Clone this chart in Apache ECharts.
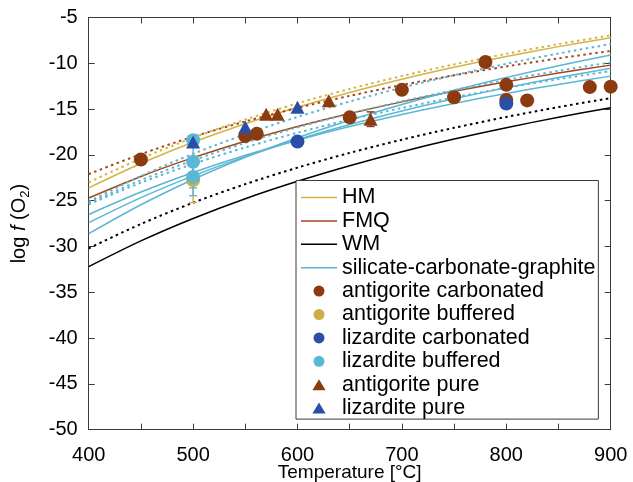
<!DOCTYPE html>
<html>
<head>
<meta charset="utf-8">
<script src="https://cdn.jsdelivr.net/npm/echarts@6/dist/echarts.min.js"></script>
<style>html,body{margin:0;padding:0;background:#fff}#c{width:633px;height:482px}</style>
</head>
<body>
<div id="c"></div>
<script>
// Temperatures (°C) at which the buffer curves were read
const temps = [400, 450, 500, 550, 600, 650, 700, 750, 800, 850, 900];

// Buffer curves (log fO2)
const hmSolid  = [-23.6, -20.94, -18.62, -16.59, -14.79, -13.18, -11.74, -10.44, -9.26, -8.18, -7.2];
const hmDotted = [-23.0, -20.40, -18.13, -16.14, -14.37, -12.80, -11.39, -10.12, -8.96, -7.91, -6.95];
const fmqSolid  = [-24.7, -22.35, -20.30, -18.50, -16.91, -15.49, -14.21, -13.06, -12.02, -11.07, -10.2];
const fmqDotted = [-22.1, -19.92, -18.02, -16.35, -14.87, -13.55, -12.37, -11.31, -10.34, -9.46, -8.65];
const wmSolid  = [-32.2, -29.39, -26.94, -24.78, -22.88, -21.18, -19.65, -18.27, -17.03, -15.89, -14.85];
const wmDotted = [-30.2, -27.54, -25.22, -23.19, -21.39, -19.78, -18.34, -17.04, -15.86, -14.78, -13.8];

// silicate-carbonate-graphite curves
const scgSolid1 = [-26.5, -24.05, -21.92, -20.04, -18.39, -16.91, -15.58, -14.38, -13.29, -12.31, -11.4];
const scgSolid2 = [-27.4, -24.67, -22.29, -20.19, -18.34, -16.69, -15.21, -13.88, -12.66, -11.56, -10.55];
const scgSolid3 = [-28.6, -25.44, -22.68, -20.26, -18.12, -16.21, -14.50, -12.95, -11.55, -10.27, -9.1];
const scgDotted1 = [-25.1, -22.31, -19.88, -17.75, -15.86, -14.17, -12.66, -11.30, -10.06, -8.93, -7.9];
const scgDotted2 = [-25.25, -22.76, -20.59, -18.69, -17.00, -15.50, -14.15, -12.93, -11.82, -10.82, -9.9];
const scgDotted3 = [-25.4, -23.04, -20.99, -19.18, -17.58, -16.15, -14.88, -13.72, -12.67, -11.72, -10.85];

// Experimental points
const antCarbT = [450, 550, 561, 650, 700, 750, 780, 800, 800, 820, 880, 900];
const antCarbV = [-20.5, -17.95, -17.7, -15.9, -12.9, -13.7, -9.85, -12.35, -14.0, -14.05, -12.6, -12.55];
const antBufT = [500];
const antBufV = [-22.75];
const antBufLo = [-25.2];
const antBufHi = [-20.3];
const lizCarbT = [600, 800];
const lizCarbV = [-18.55, -14.4];
const lizBufT = [500, 500, 500];
const lizBufV = [-18.4, -20.75, -22.4];
const lizBufLo = [-18.4, -23.6, -24.45];
const lizBufHi = [-18.4, -17.9, -20.35];
const antPureT = [570, 581, 630, 670];
const antPureV = [-15.55, -15.55, -14.1, -16.1];
const antPureLo = [-15.55, -15.55, -14.1, -16.9];
const antPureHi = [-15.55, -15.55, -14.1, -15.3];
const lizPureT = [500, 550, 600];
const lizPureV = [-18.6, -16.95, -14.8];

// Axis ticks
const xMin = 400, xMax = 900, xStep = 50, xLabelStep = 100;
const yMin = -50, yMax = -5, yStep = 5;

const C = {
  gold: '#D3B445', goldM: '#CDAE48',
  brown: '#A9441A', brownM: '#8C3A0F',
  black: '#000000',
  blue: '#2B4EA6', lblue: '#5BB7D3'
};
const FONT = 'Liberation Sans, Arial, Helvetica, sans-serif';
const LINE_ICON = 'path://M0,0H36V1.5H0Z';
const TRI_ICON = 'path://M6,0L12,10L0,10Z';

function pairs(xs, ys) { return xs.map((x, i) => [x, ys[i]]); }
function lineS(name, ys, color, dotted, width) {
  return {
    name: name, type: 'line', data: pairs(temps, ys), showSymbol: false, symbol: 'none',
    smooth: 0.3, silent: true, z: 2,
    lineStyle: { color: color, width: width || 1.5, type: dotted ? [2.5, 3.5] : 'solid' },
    itemStyle: { color: color }
  };
}
function errS(xs, lo, hi, color) {
  return {
    type: 'custom', name: '_err', silent: true, z: 3,
    data: xs.map((x, i) => [x, lo[i], hi[i]]),
    encode: { x: 0, y: [1, 2] },
    renderItem: function (params, api) {
      const x = api.value(0), l = api.value(1), h = api.value(2);
      if (l === h) return null;
      const p1 = api.coord([x, l]), p2 = api.coord([x, h]);
      const w = 4;
      const st = { stroke: color, lineWidth: 1.4 };
      return { type: 'group', children: [
        { type: 'line', shape: { x1: p1[0], y1: p1[1], x2: p2[0], y2: p2[1] }, style: st },
        { type: 'line', shape: { x1: p1[0] - w, y1: p1[1], x2: p1[0] + w, y2: p1[1] }, style: st },
        { type: 'line', shape: { x1: p2[0] - w, y1: p2[1], x2: p2[0] + w, y2: p2[1] }, style: st }
      ]};
    }
  };
}
function scatS(name, xs, ys, color, symbol) {
  return {
    name: name, type: 'scatter', data: pairs(xs, ys), symbol: symbol,
    symbolSize: symbol === 'triangle' ? [14, 13] : 14, z: 4,
    itemStyle: { color: color, opacity: 1 }
  };
}

const axisLineStyle = { color: '#3a3a3a', width: 1 };
const chart = echarts.init(document.getElementById('c'), null, { renderer: 'canvas' });
chart.setOption({
  animation: false,
  backgroundColor: '#fff',
  textStyle: { fontFamily: FONT },
  grid: { left: 88.7, right: 22.3, top: 17.5, bottom: 52.3, containLabel: false, outerBoundsMode: 'none' },
  xAxis: [{
    type: 'value', min: xMin, max: xMax, interval: xStep,
    name: 'Temperature [°C]', nameLocation: 'middle', nameGap: 34, nameMoveOverlap: false,
    nameTextStyle: { fontSize: 19, color: '#000', fontFamily: FONT },
    axisLine: { show: true, lineStyle: axisLineStyle },
    axisTick: { show: true, inside: true, length: 6, lineStyle: axisLineStyle },
    axisLabel: { fontSize: 20, color: '#000', margin: 16, fontFamily: FONT,
      formatter: v => (v % xLabelStep === 0 ? String(v) : '') },
    splitLine: { show: false }
  }, {
    type: 'value', min: xMin, max: xMax, interval: xStep, position: 'top',
    axisLine: { show: true, lineStyle: axisLineStyle },
    axisTick: { show: true, inside: true, length: 6, lineStyle: axisLineStyle },
    axisLabel: { show: false }, splitLine: { show: false }
  }],
  yAxis: [{
    type: 'value', min: yMin, max: yMax, interval: yStep,
    name: '{a|log }{i|f}{a| (O}{s|2}{a|)}', nameLocation: 'middle', nameGap: 57, nameRotate: 90,
    nameMoveOverlap: false,
    nameTextStyle: { color: '#000', fontFamily: FONT, fontSize: 20,
      rich: {
        a: { fontSize: 20, fontFamily: FONT, color: '#000' },
        i: { fontSize: 20, fontFamily: FONT, fontStyle: 'italic', color: '#000' },
        s: { fontSize: 13, fontFamily: FONT, color: '#000', verticalAlign: 'bottom', padding: [12, 0, 0, 0] }
      } },
    axisLine: { show: true, lineStyle: axisLineStyle },
    axisTick: { show: true, inside: true, length: 6, lineStyle: axisLineStyle },
    axisLabel: { fontSize: 20, color: '#000', margin: 11, fontFamily: FONT },
    splitLine: { show: false }
  }, {
    type: 'value', min: yMin, max: yMax, interval: yStep, position: 'right',
    axisLine: { show: true, lineStyle: axisLineStyle },
    axisTick: { show: true, inside: true, length: 6, lineStyle: axisLineStyle },
    axisLabel: { show: false }, splitLine: { show: false }
  }],
  legend: {
    orient: 'vertical', left: 296, top: 180.5,
    backgroundColor: '#fff', borderColor: '#3a3a3a', borderWidth: 1,
    padding: [6, 3, 0, 5], itemGap: 1.4, itemWidth: 36, itemHeight: 11,
    textStyle: { fontSize: 21.5, color: '#000', fontFamily: FONT, lineHeight: 20 },
    data: [
      { name: 'HM', icon: LINE_ICON }, { name: 'FMQ', icon: LINE_ICON }, { name: 'WM', icon: LINE_ICON },
      { name: 'silicate-carbonate-graphite', icon: LINE_ICON },
      { name: 'antigorite carbonated', icon: 'circle' },
      { name: 'antigorite buffered', icon: 'circle' },
      { name: 'lizardite carbonated', icon: 'circle' },
      { name: 'lizardite buffered', icon: 'circle' },
      { name: 'antigorite pure', icon: TRI_ICON },
      { name: 'lizardite pure', icon: TRI_ICON }
    ],
    selectedMode: false
  },
  series: [
    lineS('HM', hmSolid, C.gold, false, 1.5),
    lineS('HM dotted', hmDotted, C.gold, true, 2),
    lineS('FMQ', fmqSolid, C.brown, false, 1.5),
    lineS('FMQ dotted', fmqDotted, C.brown, true, 2),
    lineS('WM', wmSolid, C.black, false, 1.5),
    lineS('WM dotted', wmDotted, C.black, true, 2),
    lineS('silicate-carbonate-graphite', scgSolid1, C.lblue, false, 1.5),
    lineS('scg2', scgSolid2, C.lblue, false, 1.5),
    lineS('scg3', scgSolid3, C.lblue, false, 1.5),
    lineS('scgd1', scgDotted1, C.lblue, true, 2),
    lineS('scgd2', scgDotted2, C.lblue, true, 2),
    lineS('scgd3', scgDotted3, C.lblue, true, 2),
    errS(antBufT, antBufLo, antBufHi, C.goldM),
    errS(lizBufT, lizBufLo, lizBufHi, C.lblue),
    errS(antPureT, antPureLo, antPureHi, C.brownM),
    scatS('antigorite carbonated', antCarbT, antCarbV, C.brownM, 'circle'),
    scatS('antigorite buffered', antBufT, antBufV, C.goldM, 'circle'),
    scatS('lizardite carbonated', lizCarbT, lizCarbV, C.blue, 'circle'),
    scatS('lizardite buffered', lizBufT, lizBufV, C.lblue, 'circle'),
    scatS('antigorite pure', antPureT, antPureV, C.brownM, 'triangle'),
    scatS('lizardite pure', lizPureT, lizPureV, C.blue, 'triangle')
  ]
});
</script>
</body>
</html>
